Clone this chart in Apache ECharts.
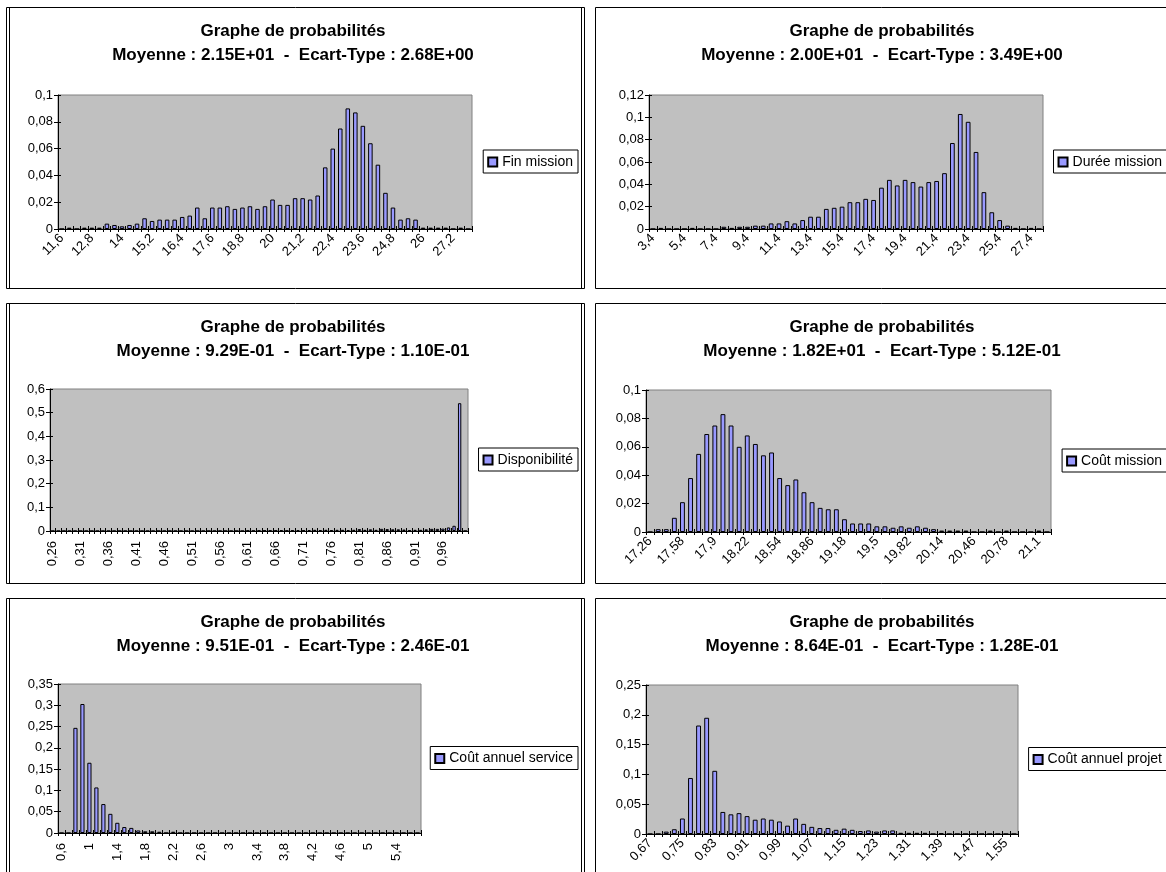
<!DOCTYPE html>
<html>
<head>
<meta charset="utf-8">
<script src="https://cdn.jsdelivr.net/npm/echarts@6/dist/echarts.min.js"></script>
<style>
  html, body { margin: 0; padding: 0; background: #fff; }
  #chart { width: 1166px; height: 872px; }
</style>
</head>
<body>
<div id="chart"></div>
<script>
const FONT = '"Liberation Sans", Arial, Helvetica, sans-serif';

// ---- Fin mission (bins of 0.3) ----
const finMissionBins = [11.6, 11.9, 12.2, 12.5, 12.8, 13.1, 13.4, 13.7, 14, 14.3, 14.6, 14.9, 15.2, 15.5, 15.8,
  16.1, 16.4, 16.7, 17, 17.3, 17.6, 17.9, 18.2, 18.5, 18.8, 19.1, 19.4, 19.7, 20, 20.3, 20.6, 20.9, 21.2, 21.5,
  21.8, 22.1, 22.4, 22.7, 23, 23.3, 23.6, 23.9, 24.2, 24.5, 24.8, 25.1, 25.4, 25.7, 26, 26.3, 26.6, 26.9, 27.2,
  27.5, 27.8];
const finMissionProb = [0, 0.001, 0, 0.001, 0.001, 0.001, 0.004, 0.003, 0.002, 0.003, 0.004, 0.008, 0.006, 0.007,
  0.007, 0.007, 0.009, 0.010, 0.016, 0.008, 0.016, 0.016, 0.017, 0.015, 0.016, 0.017, 0.015, 0.017, 0.022, 0.018,
  0.018, 0.023, 0.023, 0.022, 0.025, 0.046, 0.060, 0.075, 0.090, 0.087, 0.077, 0.064, 0.048, 0.027, 0.016, 0.007,
  0.008, 0.007, 0.001, 0.001, 0.001, 0.001, 0, 0.001, 0];

// ---- Durée mission (bins of 0.5) ----
const dureeMissionBins = [3.4, 3.9, 4.4, 4.9, 5.4, 5.9, 6.4, 6.9, 7.4, 7.9, 8.4, 8.9, 9.4, 9.9, 10.4, 10.9, 11.4,
  11.9, 12.4, 12.9, 13.4, 13.9, 14.4, 14.9, 15.4, 15.9, 16.4, 16.9, 17.4, 17.9, 18.4, 18.9, 19.4, 19.9, 20.4, 20.9,
  21.4, 21.9, 22.4, 22.9, 23.4, 23.9, 24.4, 24.9, 25.4, 25.9, 26.4, 26.9, 27.4, 27.9];
const dureeMissionProb = [0, 0.001, 0, 0, 0, 0.001, 0, 0, 0, 0.002, 0.001, 0.002, 0.002, 0.003, 0.003, 0.005, 0.005,
  0.007, 0.005, 0.008, 0.011, 0.011, 0.018, 0.019, 0.020, 0.024, 0.024, 0.027, 0.026, 0.037, 0.044, 0.039, 0.044,
  0.042, 0.038, 0.042, 0.043, 0.050, 0.077, 0.103, 0.096, 0.069, 0.033, 0.015, 0.008, 0.003, 0.001, 0, 0.001, 0];

// ---- Disponibilité (bins of 0.01) ----
const disponibiliteBins = [0.26, 0.27, 0.28, 0.29, 0.3, 0.31, 0.32, 0.33, 0.34, 0.35, 0.36, 0.37, 0.38, 0.39, 0.4,
  0.41, 0.42, 0.43, 0.44, 0.45, 0.46, 0.47, 0.48, 0.49, 0.5, 0.51, 0.52, 0.53, 0.54, 0.55, 0.56, 0.57, 0.58, 0.59,
  0.6, 0.61, 0.62, 0.63, 0.64, 0.65, 0.66, 0.67, 0.68, 0.69, 0.7, 0.71, 0.72, 0.73, 0.74, 0.75, 0.76, 0.77, 0.78,
  0.79, 0.8, 0.81, 0.82, 0.83, 0.84, 0.85, 0.86, 0.87, 0.88, 0.89, 0.9, 0.91, 0.92, 0.93, 0.94, 0.95, 0.96, 0.97,
  0.98, 0.99, 1];
const disponibiliteProb = [0, 0, 0, 0, 0, 0, 0, 0, 0, 0, 0, 0, 0, 0, 0, 0, 0, 0, 0, 0, 0, 0, 0, 0, 0, 0, 0, 0, 0, 0,
  0, 0, 0, 0, 0, 0.002, 0.001, 0.002, 0.002, 0.002, 0.002, 0.003, 0.002, 0.003, 0.004, 0.003, 0.004, 0.005, 0.004,
  0.005, 0.004, 0.005, 0.005, 0.004, 0.005, 0.008, 0.005, 0.007, 0.005, 0.009, 0.008, 0.007, 0.007, 0.006, 0.004,
  0.005, 0.005, 0.007, 0.009, 0.009, 0.010, 0.015, 0.022, 0.540, 0];

// ---- Coût mission (bins of 0.08) ----
const coutMissionBins = [17.26, 17.34, 17.42, 17.5, 17.58, 17.66, 17.74, 17.82, 17.9, 17.98, 18.06, 18.14, 18.22,
  18.3, 18.38, 18.46, 18.54, 18.62, 18.7, 18.78, 18.86, 18.94, 19.02, 19.1, 19.18, 19.26, 19.34, 19.42, 19.5, 19.58,
  19.66, 19.74, 19.82, 19.9, 19.98, 20.06, 20.14, 20.22, 20.3, 20.38, 20.46, 20.54, 20.62, 20.7, 20.78, 20.86, 20.94,
  21.02, 21.1, 21.18];
const coutMissionProb = [0, 0.002, 0.002, 0.010, 0.021, 0.038, 0.055, 0.069, 0.075, 0.083, 0.075, 0.060, 0.068,
  0.062, 0.054, 0.056, 0.038, 0.033, 0.037, 0.028, 0.021, 0.017, 0.016, 0.016, 0.009, 0.006, 0.006, 0.006, 0.004,
  0.004, 0.003, 0.004, 0.003, 0.004, 0.003, 0.002, 0.001, 0.001, 0.001, 0.001, 0, 0, 0.001, 0, 0.001, 0, 0, 0,
  0.001, 0];

// ---- Coût annuel service (bins of 0.1) ----
const coutServiceBins = [0.6, 0.7, 0.8, 0.9, 1, 1.1, 1.2, 1.3, 1.4, 1.5, 1.6, 1.7, 1.8, 1.9, 2, 2.1, 2.2, 2.3, 2.4,
  2.5, 2.6, 2.7, 2.8, 2.9, 3, 3.1, 3.2, 3.3, 3.4, 3.5, 3.6, 3.7, 3.8, 3.9, 4, 4.1, 4.2, 4.3, 4.4, 4.5, 4.6, 4.7,
  4.8, 4.9, 5, 5.1, 5.2, 5.3, 5.4, 5.5, 5.6, 5.7];
const coutServiceProb = [0, 0, 0.247, 0.303, 0.165, 0.107, 0.068, 0.045, 0.024, 0.014, 0.012, 0.006, 0.004, 0.004,
  0.003, 0, 0.003, 0, 0, 0, 0, 0, 0, 0, 0, 0, 0, 0, 0, 0, 0, 0, 0, 0, 0, 0, 0, 0, 0, 0, 0, 0, 0, 0, 0, 0, 0, 0, 0,
  0, 0, 0];

// ---- Coût annuel projet (bins of 0.02) ----
const coutProjetBins = [0.67, 0.69, 0.71, 0.73, 0.75, 0.77, 0.79, 0.81, 0.83, 0.85, 0.87, 0.89, 0.91, 0.93, 0.95,
  0.97, 0.99, 1.01, 1.03, 1.05, 1.07, 1.09, 1.11, 1.13, 1.15, 1.17, 1.19, 1.21, 1.23, 1.25, 1.27, 1.29, 1.31, 1.33,
  1.35, 1.37, 1.39, 1.41, 1.43, 1.45, 1.47, 1.49, 1.51, 1.53, 1.55, 1.57];
const coutProjetProb = [0, 0, 0.004, 0.008, 0.026, 0.094, 0.182, 0.195, 0.106, 0.037, 0.033, 0.035, 0.030, 0.024,
  0.026, 0.024, 0.021, 0.014, 0.026, 0.017, 0.012, 0.010, 0.010, 0.007, 0.009, 0.007, 0.005, 0.006, 0.004, 0.006,
  0.006, 0.002, 0.002, 0.002, 0.002, 0, 0.001, 0, 0, 0, 0, 0, 0, 0, 0, 0];

// Two columns of equally sized chart frames; the right column runs past the page edge.
const COLS = [{ x: 6.5, w: 578, titleX: 293, legendRight: 588 }, { x: 595.5, w: 578, titleX: 882, legendRight: -1 }];
const ROWS = [{ y: 7.5, h: 281, titleY: 19.5 }, { y: 303.5, h: 280, titleY: 315.5 }, { y: 598.5, h: 285, titleY: 610.5 }];

const panels = [
  { name: 'Fin mission', bins: finMissionBins, prob: finMissionProb, moyenne: '2.15E+01', ecart: '2.68E+00',
    yMax: 0.1, yStep: 0.02, labelSkip: 3, rotate: 45, col: 0, row: 0,
    grid: { left: 58, top: 95, width: 414, height: 134 } },
  { name: 'Durée mission', bins: dureeMissionBins, prob: dureeMissionProb, moyenne: '2.00E+01', ecart: '3.49E+00',
    yMax: 0.12, yStep: 0.02, labelSkip: 3, rotate: 45, col: 1, row: 0,
    grid: { left: 649, top: 95, width: 394, height: 134 } },
  { name: 'Disponibilité', bins: disponibiliteBins, prob: disponibiliteProb, moyenne: '9.29E-01', ecart: '1.10E-01',
    yMax: 0.6, yStep: 0.1, labelSkip: 4, rotate: 90, col: 0, row: 1,
    grid: { left: 50, top: 389, width: 418, height: 142 } },
  { name: 'Coût mission', bins: coutMissionBins, prob: coutMissionProb, moyenne: '1.82E+01', ecart: '5.12E-01',
    yMax: 0.1, yStep: 0.02, labelSkip: 3, rotate: 45, col: 1, row: 1,
    grid: { left: 646, top: 390, width: 405, height: 142 } },
  { name: 'Coût annuel service', bins: coutServiceBins, prob: coutServiceProb, moyenne: '9.51E-01', ecart: '2.46E-01',
    yMax: 0.35, yStep: 0.05, labelSkip: 3, rotate: 90, col: 0, row: 2,
    grid: { left: 58, top: 684, width: 363, height: 149 } },
  { name: 'Coût annuel projet', bins: coutProjetBins, prob: coutProjetProb, moyenne: '8.64E-01', ecart: '1.28E-01',
    yMax: 0.25, yStep: 0.05, labelSkip: 3, rotate: 45, col: 1, row: 2,
    grid: { left: 646, top: 685, width: 372, height: 149 } }
];

const comma = v => String(v).replace('.', ',');

const option = {
  animation: false,
  backgroundColor: '#ffffff',
  title: [], legend: [], grid: [], xAxis: [], yAxis: [], series: [], graphic: []
};

panels.forEach((p, i) => {
  const c = COLS[p.col], r = ROWS[p.row];

  // chart frame (the left column frames carry a second inner rule on both sides)
  option.graphic.push({
    type: 'rect', z: 0, silent: true,
    shape: { x: c.x, y: r.y, width: c.w, height: r.h },
    style: { fill: 'none', stroke: '#000', lineWidth: 1 }
  });
  if (p.col === 0) {
    [c.x + 3, c.x + c.w - 3].forEach(lx => option.graphic.push({
      type: 'line', z: 0, silent: true,
      shape: { x1: lx, y1: r.y, x2: lx, y2: r.y + r.h },
      style: { stroke: '#000', lineWidth: 1 }
    }));
  }

  option.title.push({
    text: 'Graphe de probabilités\nMoyenne : ' + p.moyenne + '  -  Ecart-Type : ' + p.ecart,
    left: c.titleX, top: r.titleY, textAlign: 'center', padding: 0,
    textStyle: { fontFamily: FONT, fontSize: 17, fontWeight: 'bold', color: '#000', lineHeight: 24 }
  });

  option.grid.push(Object.assign({
    show: true, backgroundColor: '#C0C0C0', borderColor: '#808080', borderWidth: 1
  }, p.grid));

  // category axis with labels and outward ticks
  option.xAxis.push({
    type: 'category', gridIndex: i, data: p.bins.map(comma), boundaryGap: true, position: 'bottom',
    axisLine: { show: true, lineStyle: { color: '#000', width: 1 } },
    axisTick: { show: true, interval: 0, length: 3, lineStyle: { color: '#000' } },
    axisLabel: { interval: p.labelSkip, rotate: p.rotate, margin: p.rotate === 90 ? 10 : 7,
      fontFamily: FONT, fontSize: 13, color: '#000' },
    splitLine: { show: false }
  });
  // same axis, inward ticks only, so the tick marks cross the axis line
  option.xAxis.push({
    type: 'category', gridIndex: i, data: p.bins.map(comma), boundaryGap: true, position: 'bottom',
    axisLine: { show: false },
    axisTick: { show: true, inside: true, interval: 0, length: 3, lineStyle: { color: '#000' } },
    axisLabel: { show: false }, splitLine: { show: false }
  });

  option.yAxis.push({
    type: 'value', gridIndex: i, min: 0, max: p.yMax, interval: p.yStep, position: 'left',
    axisLine: { show: true, lineStyle: { color: '#000', width: 1 } },
    axisTick: { show: true, length: 4, lineStyle: { color: '#000' } },
    axisLabel: { formatter: comma, margin: 5, fontFamily: FONT, fontSize: 13, color: '#000' },
    splitLine: { show: false }
  });
  option.yAxis.push({
    type: 'value', gridIndex: i, min: 0, max: p.yMax, interval: p.yStep, position: 'left', offset: 0,
    axisLine: { show: false },
    axisTick: { show: true, inside: true, length: 3, lineStyle: { color: '#000' } },
    axisLabel: { show: false }, splitLine: { show: false }
  });

  option.series.push({
    type: 'bar', name: p.name, xAxisIndex: 2 * i, yAxisIndex: 2 * i,
    data: p.prob, barWidth: '60%',
    itemStyle: { color: '#9999FF', borderColor: '#000', borderWidth: 1 },
    emphasis: { disabled: true }
  });

  // boxed legend, vertically centred on the plot area, right-aligned in its frame
  const plotMid = p.grid.top + p.grid.height / 2;
  option.legend.push({
    data: [p.name], orient: 'vertical', right: c.legendRight, top: plotMid - 12,
    backgroundColor: '#fff', borderColor: '#000', borderWidth: 1, borderRadius: 0,
    padding: [5, 5, 4, 4], itemWidth: 9, itemHeight: 9, itemGap: 0, icon: 'rect',
    selectedMode: false,
    textStyle: { fontFamily: FONT, fontSize: 14, color: '#000' }
  });
});

const chart = echarts.init(document.getElementById('chart'), null, { renderer: 'canvas' });
chart.setOption(option);
</script>
</body>
</html>
